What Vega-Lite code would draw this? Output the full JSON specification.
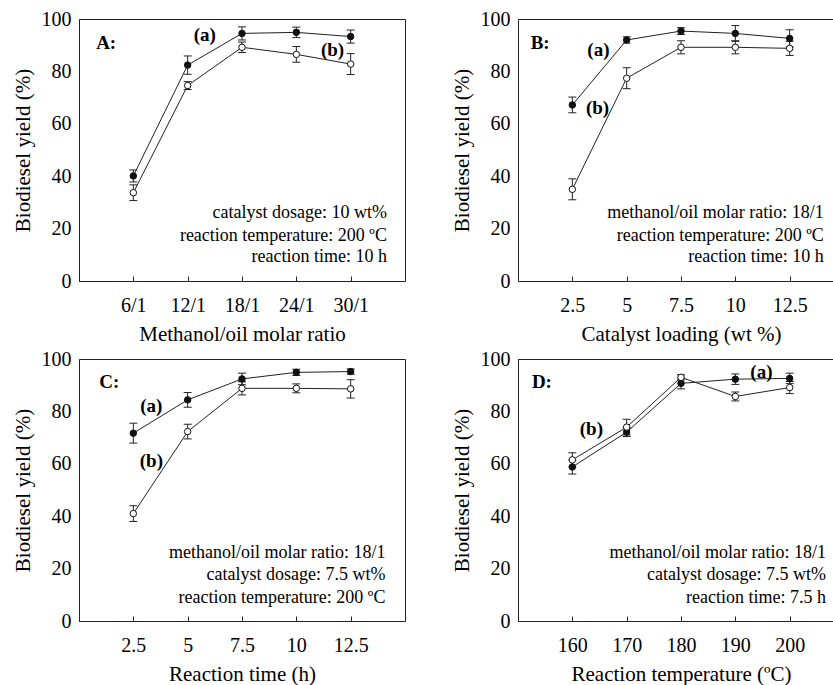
{
  "$schema": "https://vega.github.io/schema/vega-lite/v6.json",
  "padding": {"left": 11, "top": 8, "right": 0, "bottom": 0},
  "background": "white",
  "data": {"values": [
    {"p":"A","k":"pt","s":"a","x":6,"y":40.1,"lo":37.8,"hi":42.4},
    {"p":"A","k":"pt","s":"a","x":12,"y":82.4,"lo":78.9,"hi":85.9},
    {"p":"A","k":"pt","s":"a","x":18,"y":94.5,"lo":92.0,"hi":97.0},
    {"p":"A","k":"pt","s":"a","x":24,"y":94.9,"lo":92.9,"hi":96.9},
    {"p":"A","k":"pt","s":"a","x":30,"y":93.3,"lo":90.8,"hi":95.8},
    {"p":"A","k":"pt","s":"b","x":6,"y":33.7,"lo":30.7,"hi":36.7},
    {"p":"A","k":"pt","s":"b","x":12,"y":74.6,"lo":73.1,"hi":76.1},
    {"p":"A","k":"pt","s":"b","x":18,"y":89.2,"lo":87.2,"hi":91.2},
    {"p":"A","k":"pt","s":"b","x":24,"y":86.5,"lo":83.5,"hi":89.5},
    {"p":"A","k":"pt","s":"b","x":30,"y":82.8,"lo":78.8,"hi":86.8},
    {"p":"A","k":"b","x":13.9,"y":93.9,"t":"(a)"},
    {"p":"A","k":"b","x":28.0,"y":88.2,"t":"(b)"},
    {"p":"A","k":"b","x":3.0,"y":90.8,"t":"A:"},
    {"p":"A","k":"n","x":34.0,"y":26.0,"t":"catalyst dosage: 10 wt%"},
    {"p":"A","k":"n","x":34.0,"y":17.2,"t":"reaction temperature: 200 ºC"},
    {"p":"A","k":"n","x":34.0,"y":9.2,"t":"reaction time: 10 h"},

    {"p":"B","k":"pt","s":"a","x":2.5,"y":67.2,"lo":64.2,"hi":70.2},
    {"p":"B","k":"pt","s":"a","x":5,"y":92.0,"lo":90.8,"hi":93.2},
    {"p":"B","k":"pt","s":"a","x":7.5,"y":95.4,"lo":94.1,"hi":96.7},
    {"p":"B","k":"pt","s":"a","x":10,"y":94.5,"lo":91.5,"hi":97.5},
    {"p":"B","k":"pt","s":"a","x":12.5,"y":92.6,"lo":89.3,"hi":95.9},
    {"p":"B","k":"pt","s":"b","x":2.5,"y":35.0,"lo":31.0,"hi":39.0},
    {"p":"B","k":"pt","s":"b","x":5,"y":77.4,"lo":73.4,"hi":81.4},
    {"p":"B","k":"pt","s":"b","x":7.5,"y":89.2,"lo":86.7,"hi":91.7},
    {"p":"B","k":"pt","s":"b","x":10,"y":89.2,"lo":86.7,"hi":91.7},
    {"p":"B","k":"pt","s":"b","x":12.5,"y":88.8,"lo":86.1,"hi":91.5},
    {"p":"B","k":"b","x":3.7,"y":88.2,"t":"(a)"},
    {"p":"B","k":"b","x":3.66,"y":66.0,"t":"(b)"},
    {"p":"B","k":"b","x":1.02,"y":90.8,"t":"B:"},
    {"p":"B","k":"n","x":14.07,"y":26.0,"t":"methanol/oil molar ratio: 18/1"},
    {"p":"B","k":"n","x":14.07,"y":17.2,"t":"reaction temperature: 200 ºC"},
    {"p":"B","k":"n","x":14.07,"y":9.2,"t":"reaction time: 10 h"},

    {"p":"C","k":"pt","s":"a","x":2.5,"y":71.7,"lo":67.9,"hi":75.5},
    {"p":"C","k":"pt","s":"a","x":5,"y":84.4,"lo":81.6,"hi":87.2},
    {"p":"C","k":"pt","s":"a","x":7.5,"y":92.4,"lo":90.2,"hi":94.6},
    {"p":"C","k":"pt","s":"a","x":10,"y":94.9,"lo":93.7,"hi":96.1},
    {"p":"C","k":"pt","s":"a","x":12.5,"y":95.2,"lo":94.2,"hi":96.2},
    {"p":"C","k":"pt","s":"b","x":2.5,"y":41.0,"lo":38.0,"hi":44.0},
    {"p":"C","k":"pt","s":"b","x":5,"y":72.3,"lo":69.5,"hi":75.1},
    {"p":"C","k":"pt","s":"b","x":7.5,"y":88.8,"lo":86.3,"hi":91.3},
    {"p":"C","k":"pt","s":"b","x":10,"y":88.8,"lo":87.1,"hi":90.5},
    {"p":"C","k":"pt","s":"b","x":12.5,"y":88.6,"lo":85.1,"hi":92.1},
    {"p":"C","k":"b","x":3.33,"y":81.9,"t":"(a)"},
    {"p":"C","k":"b","x":3.33,"y":60.9,"t":"(b)"},
    {"p":"C","k":"b","x":1.39,"y":91.4,"t":"C:"},
    {"p":"C","k":"n","x":14.1,"y":26.0,"t":"methanol/oil molar ratio: 18/1"},
    {"p":"C","k":"n","x":14.1,"y":17.5,"t":"catalyst dosage: 7.5 wt%"},
    {"p":"C","k":"n","x":14.1,"y":8.9,"t":"reaction temperature: 200 ºC"},

    {"p":"D","k":"pt","s":"a","x":160,"y":58.8,"lo":56.1,"hi":61.5},
    {"p":"D","k":"pt","s":"a","x":170,"y":72.1,"lo":70.4,"hi":73.8},
    {"p":"D","k":"pt","s":"a","x":180,"y":90.7,"lo":88.6,"hi":92.8},
    {"p":"D","k":"pt","s":"a","x":190,"y":92.3,"lo":90.3,"hi":94.3},
    {"p":"D","k":"pt","s":"a","x":200,"y":92.6,"lo":90.6,"hi":94.6},
    {"p":"D","k":"pt","s":"b","x":160,"y":61.5,"lo":58.8,"hi":64.2},
    {"p":"D","k":"pt","s":"b","x":170,"y":74.0,"lo":71.0,"hi":77.0},
    {"p":"D","k":"pt","s":"b","x":180,"y":93.0,"lo":92.0,"hi":94.0},
    {"p":"D","k":"pt","s":"b","x":190,"y":85.7,"lo":84.0,"hi":87.4},
    {"p":"D","k":"pt","s":"b","x":200,"y":89.1,"lo":86.8,"hi":91.4},
    {"p":"D","k":"b","x":194.8,"y":95.2,"t":"(a)"},
    {"p":"D","k":"b","x":163.5,"y":73.2,"t":"(b)"},
    {"p":"D","k":"b","x":154.4,"y":91.4,"t":"D:"},
    {"p":"D","k":"n","x":206.7,"y":26.0,"t":"methanol/oil molar ratio: 18/1"},
    {"p":"D","k":"n","x":206.7,"y":17.5,"t":"catalyst dosage: 7.5 wt%"},
    {"p":"D","k":"n","x":206.7,"y":8.9,"t":"reaction time: 7.5 h"}
  ]},
  "columns": 2,
  "spacing": {"row": 78, "column": 113},
  "bounds": "flush",
  "concat": [
    {
      "width": 326, "height": 262,
      "transform": [{"filter": "datum.p=='A'"}],
      "encoding": {
        "x": {"field": "x", "type": "quantitative", "scale": {"domain": [0, 36], "nice": false, "zero": false},
              "axis": {"values": [6,12,18,24,30], "labelExpr": "datum.value + '/1'", "title": "Methanol/oil molar ratio"}},
        "y": {"field": "y", "type": "quantitative", "scale": {"domain": [0, 100]},
              "axis": {"values": [0,20,40,60,80,100], "title": "Biodiesel yield (%)"}}
      },
      "layer": [
        {"transform": [{"filter": "datum.k=='pt'"}], "mark": {"type": "line", "color": "#222", "strokeWidth": 1}, "encoding": {"detail": {"field": "s"}}},
        {"transform": [{"filter": "datum.k=='pt'"}], "mark": {"type": "rule", "color": "#222", "strokeWidth": 1}, "encoding": {"y": {"field": "lo", "type": "quantitative"}, "y2": {"field": "hi"}}},
        {"transform": [{"filter": "datum.k=='pt'"}], "mark": {"type": "tick", "orient": "horizontal", "size": 8, "thickness": 1, "color": "#222", "opacity": 1}, "encoding": {"y": {"field": "lo", "type": "quantitative"}}},
        {"transform": [{"filter": "datum.k=='pt'"}], "mark": {"type": "tick", "orient": "horizontal", "size": 8, "thickness": 1, "color": "#222", "opacity": 1}, "encoding": {"y": {"field": "hi", "type": "quantitative"}}},
        {"transform": [{"filter": "datum.k=='pt'"}], "mark": {"type": "point", "shape": "circle", "filled": true, "size": 42, "stroke": "#111", "strokeWidth": 1, "opacity": 1}, "encoding": {"fill": {"field": "s", "type": "nominal", "scale": {"domain": ["a","b"], "range": ["#111","white"]}, "legend": null}}},
        {"transform": [{"filter": "datum.k=='b'"}], "mark": {"type": "text", "font": "Liberation Serif", "fontSize": 19, "fontWeight": "bold", "align": "center", "baseline": "middle", "color": "#000"}, "encoding": {"text": {"field": "t"}}},
        {"transform": [{"filter": "datum.k=='n'"}], "mark": {"type": "text", "font": "Liberation Serif", "fontSize": 18, "align": "right", "baseline": "middle", "color": "#000"}, "encoding": {"text": {"field": "t"}}}
      ]
    },
    {
      "width": 326, "height": 262,
      "transform": [{"filter": "datum.p=='B'"}],
      "encoding": {
        "x": {"field": "x", "type": "quantitative", "scale": {"domain": [0, 15], "nice": false, "zero": false},
              "axis": {"values": [2.5,5,7.5,10,12.5], "labelExpr": "'' + datum.value", "title": "Catalyst loading (wt %)"}},
        "y": {"field": "y", "type": "quantitative", "scale": {"domain": [0, 100]},
              "axis": {"values": [0,20,40,60,80,100], "title": "Biodiesel yield (%)"}}
      },
      "layer": [
        {"transform": [{"filter": "datum.k=='pt'"}], "mark": {"type": "line", "color": "#222", "strokeWidth": 1}, "encoding": {"detail": {"field": "s"}}},
        {"transform": [{"filter": "datum.k=='pt'"}], "mark": {"type": "rule", "color": "#222", "strokeWidth": 1}, "encoding": {"y": {"field": "lo", "type": "quantitative"}, "y2": {"field": "hi"}}},
        {"transform": [{"filter": "datum.k=='pt'"}], "mark": {"type": "tick", "orient": "horizontal", "size": 8, "thickness": 1, "color": "#222", "opacity": 1}, "encoding": {"y": {"field": "lo", "type": "quantitative"}}},
        {"transform": [{"filter": "datum.k=='pt'"}], "mark": {"type": "tick", "orient": "horizontal", "size": 8, "thickness": 1, "color": "#222", "opacity": 1}, "encoding": {"y": {"field": "hi", "type": "quantitative"}}},
        {"transform": [{"filter": "datum.k=='pt'"}], "mark": {"type": "point", "shape": "circle", "filled": true, "size": 42, "stroke": "#111", "strokeWidth": 1, "opacity": 1}, "encoding": {"fill": {"field": "s", "type": "nominal", "scale": {"domain": ["a","b"], "range": ["#111","white"]}, "legend": null}}},
        {"transform": [{"filter": "datum.k=='b'"}], "mark": {"type": "text", "font": "Liberation Serif", "fontSize": 19, "fontWeight": "bold", "align": "center", "baseline": "middle", "color": "#000"}, "encoding": {"text": {"field": "t"}}},
        {"transform": [{"filter": "datum.k=='n'"}], "mark": {"type": "text", "font": "Liberation Serif", "fontSize": 18, "align": "right", "baseline": "middle", "color": "#000"}, "encoding": {"text": {"field": "t"}}}
      ]
    },
    {
      "width": 326, "height": 262,
      "transform": [{"filter": "datum.p=='C'"}],
      "encoding": {
        "x": {"field": "x", "type": "quantitative", "scale": {"domain": [0, 15], "nice": false, "zero": false},
              "axis": {"values": [2.5,5,7.5,10,12.5], "labelExpr": "'' + datum.value", "title": "Reaction time (h)"}},
        "y": {"field": "y", "type": "quantitative", "scale": {"domain": [0, 100]},
              "axis": {"values": [0,20,40,60,80,100], "title": "Biodiesel yield (%)"}}
      },
      "layer": [
        {"transform": [{"filter": "datum.k=='pt'"}], "mark": {"type": "line", "color": "#222", "strokeWidth": 1}, "encoding": {"detail": {"field": "s"}}},
        {"transform": [{"filter": "datum.k=='pt'"}], "mark": {"type": "rule", "color": "#222", "strokeWidth": 1}, "encoding": {"y": {"field": "lo", "type": "quantitative"}, "y2": {"field": "hi"}}},
        {"transform": [{"filter": "datum.k=='pt'"}], "mark": {"type": "tick", "orient": "horizontal", "size": 8, "thickness": 1, "color": "#222", "opacity": 1}, "encoding": {"y": {"field": "lo", "type": "quantitative"}}},
        {"transform": [{"filter": "datum.k=='pt'"}], "mark": {"type": "tick", "orient": "horizontal", "size": 8, "thickness": 1, "color": "#222", "opacity": 1}, "encoding": {"y": {"field": "hi", "type": "quantitative"}}},
        {"transform": [{"filter": "datum.k=='pt'"}], "mark": {"type": "point", "shape": "circle", "filled": true, "size": 42, "stroke": "#111", "strokeWidth": 1, "opacity": 1}, "encoding": {"fill": {"field": "s", "type": "nominal", "scale": {"domain": ["a","b"], "range": ["#111","white"]}, "legend": null}}},
        {"transform": [{"filter": "datum.k=='b'"}], "mark": {"type": "text", "font": "Liberation Serif", "fontSize": 19, "fontWeight": "bold", "align": "center", "baseline": "middle", "color": "#000"}, "encoding": {"text": {"field": "t"}}},
        {"transform": [{"filter": "datum.k=='n'"}], "mark": {"type": "text", "font": "Liberation Serif", "fontSize": 18, "align": "right", "baseline": "middle", "color": "#000"}, "encoding": {"text": {"field": "t"}}}
      ]
    },
    {
      "width": 326, "height": 262,
      "transform": [{"filter": "datum.p=='D'"}],
      "encoding": {
        "x": {"field": "x", "type": "quantitative", "scale": {"domain": [150, 210], "nice": false, "zero": false},
              "axis": {"values": [160,170,180,190,200], "title": "Reaction temperature (ºC)"}},
        "y": {"field": "y", "type": "quantitative", "scale": {"domain": [0, 100]},
              "axis": {"values": [0,20,40,60,80,100], "title": "Biodiesel yield (%)"}}
      },
      "layer": [
        {"transform": [{"filter": "datum.k=='pt'"}], "mark": {"type": "line", "color": "#222", "strokeWidth": 1}, "encoding": {"detail": {"field": "s"}}},
        {"transform": [{"filter": "datum.k=='pt'"}], "mark": {"type": "rule", "color": "#222", "strokeWidth": 1}, "encoding": {"y": {"field": "lo", "type": "quantitative"}, "y2": {"field": "hi"}}},
        {"transform": [{"filter": "datum.k=='pt'"}], "mark": {"type": "tick", "orient": "horizontal", "size": 8, "thickness": 1, "color": "#222", "opacity": 1}, "encoding": {"y": {"field": "lo", "type": "quantitative"}}},
        {"transform": [{"filter": "datum.k=='pt'"}], "mark": {"type": "tick", "orient": "horizontal", "size": 8, "thickness": 1, "color": "#222", "opacity": 1}, "encoding": {"y": {"field": "hi", "type": "quantitative"}}},
        {"transform": [{"filter": "datum.k=='pt'"}], "mark": {"type": "point", "shape": "circle", "filled": true, "size": 42, "stroke": "#111", "strokeWidth": 1, "opacity": 1}, "encoding": {"fill": {"field": "s", "type": "nominal", "scale": {"domain": ["a","b"], "range": ["#111","white"]}, "legend": null}}},
        {"transform": [{"filter": "datum.k=='b'"}], "mark": {"type": "text", "font": "Liberation Serif", "fontSize": 19, "fontWeight": "bold", "align": "center", "baseline": "middle", "color": "#000"}, "encoding": {"text": {"field": "t"}}},
        {"transform": [{"filter": "datum.k=='n'"}], "mark": {"type": "text", "font": "Liberation Serif", "fontSize": 18, "align": "right", "baseline": "middle", "color": "#000"}, "encoding": {"text": {"field": "t"}}}
      ]
    }
  ],
  "config": {
    "view": {"stroke": "#222", "strokeWidth": 1},
    "axis": {
      "grid": false,
      "labelFont": "Liberation Serif", "titleFont": "Liberation Serif",
      "labelFontSize": 20, "titleFontSize": 21,
      "labelColor": "#000", "titleColor": "#000", "titleFontWeight": "normal",
      "domainColor": "#222", "domainWidth": 1, "tickColor": "#222", "tickWidth": 1
    },
    "axisX": {"tickSize": -5, "labelPadding": 19, "titlePadding": 8, "labelFlush": false, "labelOverlap": false},
    "axisY": {"ticks": false, "labelPadding": 8, "titlePadding": 8, "labelFlush": false, "labelOverlap": false}
  }
}
